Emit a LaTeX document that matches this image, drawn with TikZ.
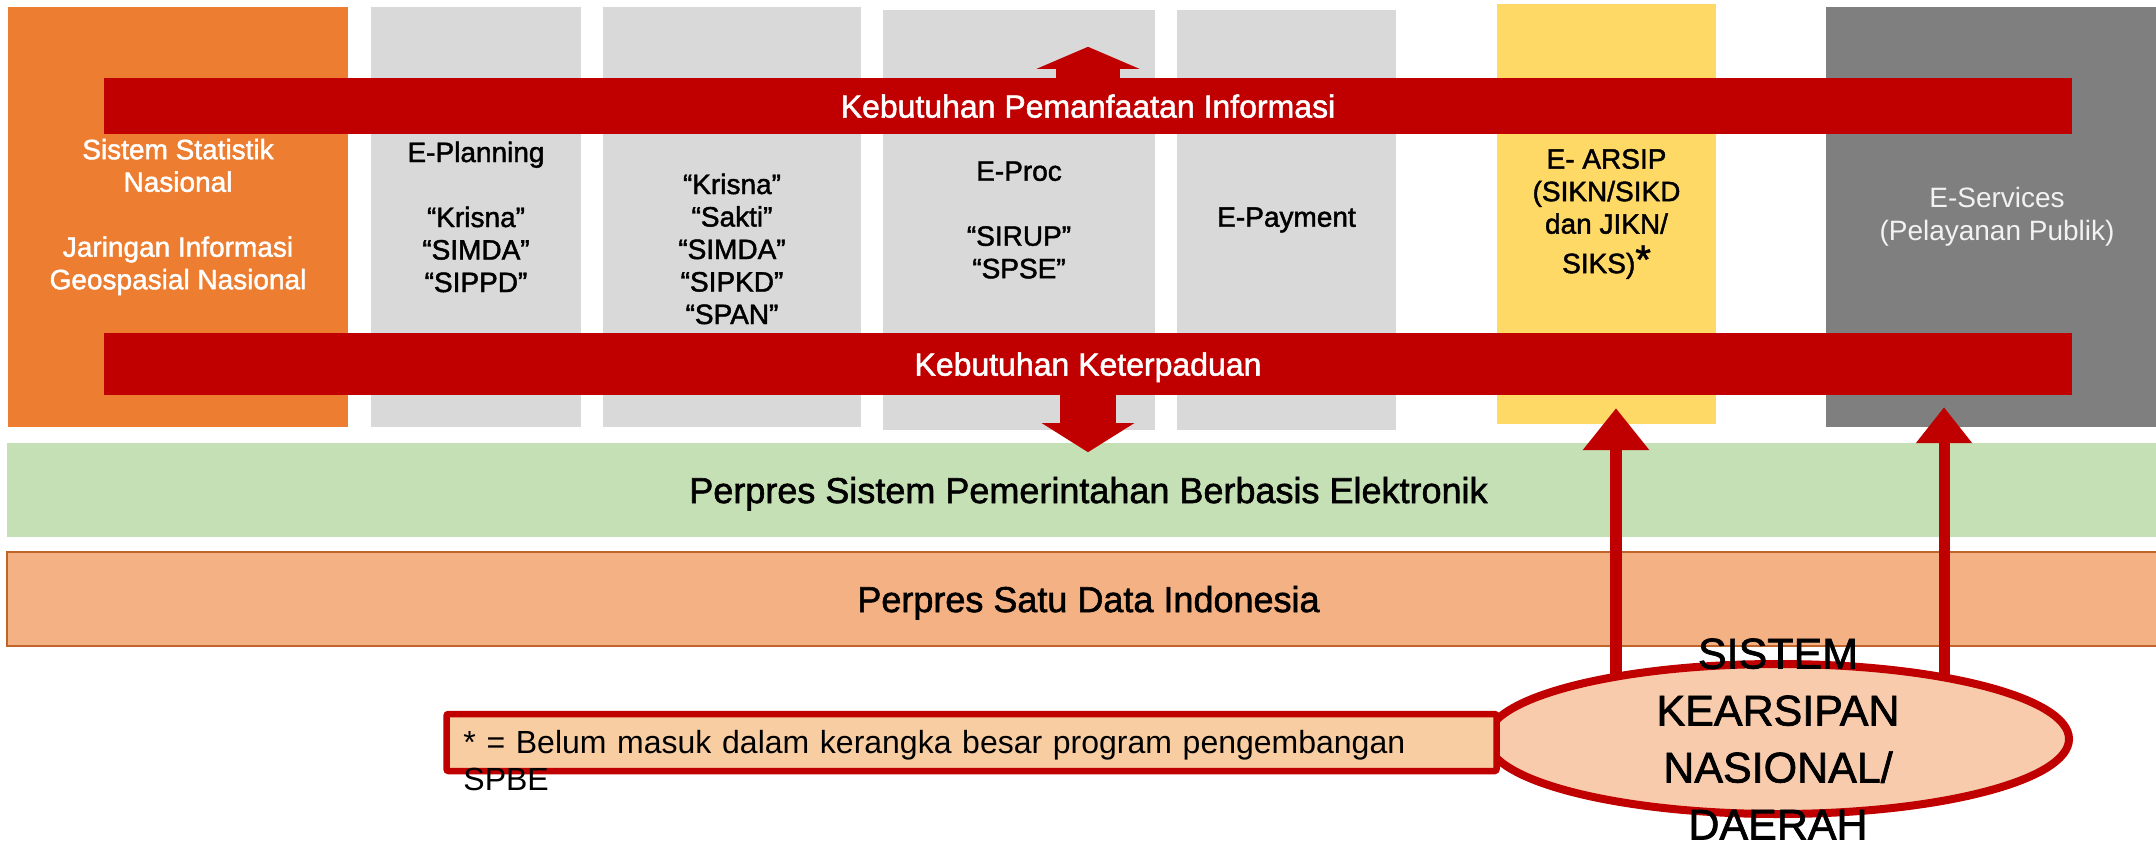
\documentclass[tikz,border=0pt]{standalone}
\usepackage{fontspec}
\setmainfont{Liberation Sans}
\newfontfamily\medfont{Liberation Sans}[RawFeature={embolden=1.6}]
\usepackage{tikz}
\usepackage{xcolor}
\usetikzlibrary{arrows.meta, positioning, shapes.geometric}
\definecolor{oranye}{HTML}{ED7D31}
\definecolor{abu}{HTML}{D9D9D9}
\definecolor{kuning}{HTML}{FFD966}
\definecolor{abutua}{HTML}{7F7F7F}
\definecolor{merah}{HTML}{C00000}
\definecolor{hijau}{HTML}{C5E0B4}
\definecolor{peach}{HTML}{F4B183}
\definecolor{peachline}{HTML}{C0642A}
\definecolor{catatanfill}{HTML}{F8CDA2}
\definecolor{elipsfill}{HTML}{F8CBAD}
\tikzset{
    sysbox/.style={
        rectangle,
        fill=abu,
        minimum height=420pt,
        inner sep=0pt,
        align=center,
        font=\medfont\fontsize{28}{32.5}\selectfont % teks kotak sistem
    },
    needbar/.style={
        rectangle,
        fill=merah,
        minimum width=1968pt,
        inner sep=0pt,
        text depth=0pt,
        text=white,
        font=\medfont\fontsize{32}{36}\selectfont
    },
    regband/.style={
        rectangle,
        minimum width=2163pt,
        minimum height=94pt,
        inner sep=0pt,
        text depth=0pt,
        font=\medfont\fontsize{36}{40}\selectfont
    },
    feed/.style={draw=merah, line width=12pt}
}

\begin{document}
\begin{tikzpicture}[x=1pt, y=-1pt]

    \useasboundingbox (0,0) rectangle (2156,841);

    % kotak sistem
    \node[sysbox, fill=oranye, text=white, minimum width=340pt] (sns) at (178,217) {
    Sistem Statistik\\Nasional\\[32.5pt]Jaringan Informasi\\Geospasial Nasional};
    \node[sysbox, minimum width=210pt] (eplan) at (476,217) {
    E-Planning\\[32.5pt]“Krisna”\\“SIMDA”\\“SIPPD”};
    \node[sysbox, minimum width=258pt] (ebudget) at (732,217) {
    \phantom{X}\\[32.5pt]“Krisna”\\“Sakti”\\“SIMDA”\\“SIPKD”\\“SPAN”};
    \node[sysbox, minimum width=272pt] (eproc) at (1019,220) {
    E-Proc\\[32.5pt]“SIRUP”\\“SPSE”};
    \node[sysbox, minimum width=219pt] (epay) at (1286.5,220) {E-Payment};
    \node[sysbox, fill=kuning, minimum width=219pt] (earsip) at (1606.5,214) {
    E- ARSIP\\(SIKN/SIKD\\dan JIKN/\\[7pt]SIKS){\fontsize{40}{40}\selectfont*}};
    \node[sysbox, fill=abutua, text=white!95!black, minimum width=342pt,
        font=\fontsize{28}{33}\selectfont] (eservice) at (1997,217) {
    E-Services\\(Pelayanan Publik)};

    % regulasi
    \node[regband, fill=hijau] (spbe) at (1088.5,490) {Perpres Sistem Pemerintahan Berbasis Elektronik};
    \node[regband, fill=peach, draw=peachline, line width=2pt] (sdi) at (1088.5,599) {Perpres Satu Data Indonesia};

    % kebutuhan
    \node[needbar, minimum height=56pt] (infobar) at (1088,106) {Kebutuhan Pemanfaatan Informasi};
    \node[needbar, minimum height=62pt] (padubar) at (1088,364) {Kebutuhan Keterpaduan};

    \draw[merah, line width=64pt, -{Triangle[width=102pt, length=22pt]}]
        ([yshift=-2pt]infobar.north) -- ++(0,-33);
    \draw[merah, line width=56pt, -{Triangle[width=91pt, length=29pt]}]
        ([yshift=2pt]padubar.south) -- ++(0,59);

    % sistem kearsipan
    \node[ellipse, draw=merah, line width=8pt, fill=elipsfill, inner sep=0pt,
        minimum width=582pt, minimum height=150pt] (kearsipan) at (1778,739) {};

    \draw[feed, -{Triangle[width=64pt, length=42pt]}]
        ([xshift=-162pt, yshift=59pt]kearsipan.center) -- ([xshift=9.5pt, yshift=16pt]earsip.south);
    \draw[feed, line width=11pt, -{Triangle[width=54pt, length=36pt]}]
        ([xshift=166pt, yshift=59pt]kearsipan.center) -- ([xshift=-53pt, yshift=20pt]eservice.south);

    % catatan
    \node[rectangle, draw=merah, line width=6.5pt, fill=catatanfill, rounded corners=2pt,
        minimum width=1050pt, minimum height=57pt] (catatan) at (971.5,742.5) {};
    \node[anchor=north west, inner sep=0pt, text width=980pt, align=left,
        font=\fontsize{32}{37}\selectfont] (catatantext) at ([xshift=20pt, yshift=-19pt]catatan.north west) {
    * = Belum masuk dalam kerangka besar program pengembangan SPBE};

    \node[align=center, inner sep=0pt, font=\medfont\fontsize{43}{57}\selectfont] (kearsipantext) at (kearsipan.center) {
    SISTEM\\KEARSIPAN\\NASIONAL/\\DAERAH};

\end{tikzpicture}
\end{document}
